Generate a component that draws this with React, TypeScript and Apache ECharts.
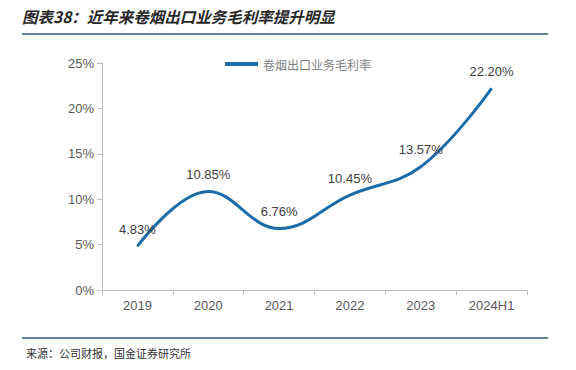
import React, { useEffect, useRef } from "react";
import * as echarts from "echarts";

const categories = ["2019", "2020", "2021", "2022", "2023", "2024H1"];
const grossMargin = [4.83, 10.85, 6.76, 10.45, 13.57, 22.2];
const seriesName = "卷烟出口业务毛利率";
const titleText = "图表38：近年来卷烟出口业务毛利率提升明显";
const sourceText = "来源：公司财报，国金证券研究所";

export default function App() {
  const ref = useRef<HTMLDivElement>(null);
  useEffect(() => {
    if (!ref.current) return;
    const chart = echarts.init(ref.current, undefined, { renderer: "svg" });
    chart.setOption({
      animation: false,
      backgroundColor: "#ffffff",
      textStyle: { fontFamily: "Liberation Sans, Arial, sans-serif" },
      graphic: [
        {
          type: "text",
          left: 22,
          top: 8,
          style: {
            text: titleText,
            fontSize: 15.5,
            fontStyle: "italic",
            fontWeight: "bold",
            fill: "#262626",
            fontFamily: "Noto Sans CJK SC",
          },
        },
        {
          type: "line",
          shape: { x1: 22, y1: 34, x2: 548, y2: 34 },
          style: { stroke: "#2a5a85", lineWidth: 1.5 },
        },
        {
          type: "line",
          shape: { x1: 22, y1: 338, x2: 548, y2: 338 },
          style: { stroke: "#2a5a85", lineWidth: 1.5 },
        },
        {
          type: "text",
          left: 26,
          top: 347,
          style: {
            text: sourceText,
            fontSize: 11,
            fill: "#333333",
            fontFamily: "Noto Sans CJK SC",
          },
        },
      ],
      legend: {
        top: 53,
        left: 220,
        itemWidth: 33,
        itemHeight: 4,
        icon: "rect",
        itemGap: 6,
        textStyle: { color: "#7f7f7f", fontSize: 12, fontFamily: "Noto Sans CJK SC" },
        data: [seriesName],
      },
      grid: { left: 102, right: 49, top: 63, bottom: 80 },
      xAxis: {
        type: "category",
        data: categories,
        boundaryGap: true,
        axisLine: { lineStyle: { color: "#bfbfbf" } },
        axisTick: { show: true, alignWithLabel: false, lineStyle: { color: "#bfbfbf" } },
        axisLabel: { color: "#595959", fontSize: 13, margin: 9 },
      },
      yAxis: {
        type: "value",
        min: 0,
        max: 25,
        interval: 5,
        axisLine: { show: true, lineStyle: { color: "#bfbfbf" } },
        axisTick: { show: true, lineStyle: { color: "#bfbfbf" } },
        splitLine: { show: false },
        axisLabel: { color: "#595959", fontSize: 13, formatter: "{value}%", margin: 8 },
      },
      series: [
        {
          name: seriesName,
          type: "line",
          data: grossMargin,
          smooth: 0.4,
          showSymbol: true,
          symbol: "circle",
          symbolSize: 1,
          lineStyle: { color: "#1b6ca8", width: 3 },
          itemStyle: { color: "#1b6ca8" },
          label: {
            show: true,
            position: "top",
            distance: 10,
            color: "#404040",
            fontSize: 13,
            formatter: (p: any) => p.value.toFixed(2) + "%",
          },
        },
      ],
    });
    return () => chart.dispose();
  }, []);
  return (
    <div
      ref={ref}
      style={{ position: "fixed", left: 0, top: 0, width: 576, height: 370 }}
    />
  );
}
